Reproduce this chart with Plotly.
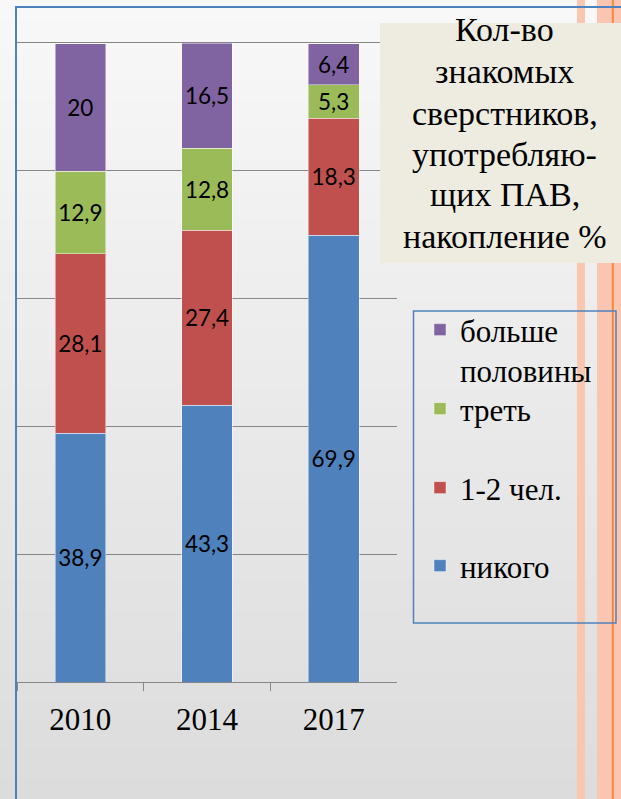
import plotly.graph_objects as go

W, H = 621, 799

years = ["2010", "2014", "2017"]
series_names = ["никого", "1-2 чел.", "треть", "больше<br>половины"]
nobody = [38.9, 43.3, 69.9]
one_two = [28.1, 27.4, 18.3]
third = [12.9, 12.8, 5.3]
more_half = [20, 16.5, 6.4]
colors = ["#4F81BD", "#C0504D", "#9BBB59", "#8064A2"]
title_lines = ["Кол-во", "знакомых", "сверстников,", "употребляю-", "щих ПАВ,", "накопление %"]

series_values = [nobody, one_two, third, more_half]

SERIF = "Liberation Serif"


def px_x(x):
    return x / W


def px_y(y):
    return 1 - y / H


def fmt(v):
    return ("%g" % v).replace(".", ",")


fig = go.Figure()
legend_ids = ["legend4", "legend3", "legend2", "legend"]
for name, vals, col, lid in zip(series_names, series_values, colors, legend_ids):
    fig.add_trace(go.Bar(
        x=years, y=vals, name=name,
        marker=dict(color=col, line=dict(color="rgba(255,255,255,0.45)", width=1)),
        text=[fmt(v) for v in vals],
        textposition="inside", insidetextanchor="middle", textangle=0,
        constraintext="none",
        textfont=dict(family="Lato", size=22.5, color="black"),
        legend=lid,
    ))

shapes = []
# gradient background bands
n = 80
c0, c1 = 248, 220
for i in range(n):
    c = round(c0 + (c1 - c0) * i / (n - 1))
    shapes.append(dict(type="rect", xref="paper", yref="paper",
                       x0=0, x1=1, y0=px_y(H * (i + 1) / n + 0.5), y1=px_y(H * i / n),
                       fillcolor=f"rgb({c},{c},{c})", line=dict(width=0), layer="below"))
# decorative stripes on right
salmon = "#FBC6B1"
shapes.append(dict(type="rect", xref="paper", yref="paper", x0=px_x(577), x1=px_x(585),
                   y0=0, y1=1, fillcolor=salmon, line=dict(width=0), layer="above"))
shapes.append(dict(type="rect", xref="paper", yref="paper", x0=px_x(597), x1=px_x(621),
                   y0=0, y1=1, fillcolor=salmon, line=dict(width=0), layer="above"))
shapes.append(dict(type="rect", xref="paper", yref="paper", x0=px_x(611.8), x1=px_x(613.8),
                   y0=0, y1=1, fillcolor="#F5883A", line=dict(width=0), layer="above"))
# frame lines
shapes.append(dict(type="line", xref="paper", yref="paper", x0=px_x(16), x1=px_x(16),
                   y0=0, y1=px_y(6.5), line=dict(color="#4F81BD", width=2), layer="above"))
shapes.append(dict(type="line", xref="paper", yref="paper", x0=px_x(15), x1=1,
                   y0=px_y(7), y1=px_y(7), line=dict(color="#4F81BD", width=2), layer="above"))
# title box
shapes.append(dict(type="rect", xref="paper", yref="paper", x0=px_x(380), x1=1,
                   y0=px_y(263), y1=px_y(23), fillcolor="#EEECE1", line=dict(width=0), layer="above"))
# legend box
shapes.append(dict(type="rect", xref="paper", yref="paper", x0=px_x(413.5), x1=px_x(616),
                   y0=px_y(623), y1=px_y(311), fillcolor="rgba(0,0,0,0)",
                   line=dict(color="#4F81BD", width=1.5), layer="above"))

annotations = []
title_y = [30, 72, 113, 154, 194, 236]
for t, yy in zip(title_lines, title_y):
    annotations.append(dict(text=t, xref="paper", yref="paper", x=px_x(505), y=px_y(yy),
                            xanchor="center", yanchor="middle", showarrow=False,
                            font=dict(family=SERIF, size=34, color="black")))

leg_font = dict(family=SERIF, size=31, color="black")
leg_common = dict(bgcolor="rgba(0,0,0,0)", borderwidth=0, font=leg_font,
                  xanchor="left", x=px_x(420), valign="top", itemclick=False)

layout = dict(
    width=W, height=H,
    margin=dict(l=0, r=0, t=0, b=0),
    paper_bgcolor="#eeeeee",
    plot_bgcolor="white",
    barmode="stack",
    bargap=0.6,
    showlegend=True,
    xaxis=dict(domain=[px_x(17), px_x(397)], showline=True, mirror=True, linecolor="#868686",
               linewidth=1.3, ticks="outside", tickson="boundaries", ticklen=8, tickcolor="#868686",
               tickwidth=1.3, ticklabelstandoff=10,
               tickfont=dict(family=SERIF, size=31, color="black"), showgrid=False),
    yaxis=dict(domain=[px_y(682), px_y(43)], range=[0, 100], dtick=20, showticklabels=False,
               showgrid=True, gridcolor="#868686", gridwidth=1.3, zeroline=False, fixedrange=True),
    shapes=shapes,
    annotations=annotations,
    legend=dict(**leg_common, y=px_y(303), yanchor="top"),
    legend2=dict(**leg_common, y=px_y(409), yanchor="middle"),
    legend3=dict(**leg_common, y=px_y(488), yanchor="middle"),
    legend4=dict(**leg_common, y=px_y(566), yanchor="middle"),
)
fig.update_layout(**layout)
fig.write_html("out.html", post_script="document.body.style.margin='0';",
               config={"displayModeBar": False})
